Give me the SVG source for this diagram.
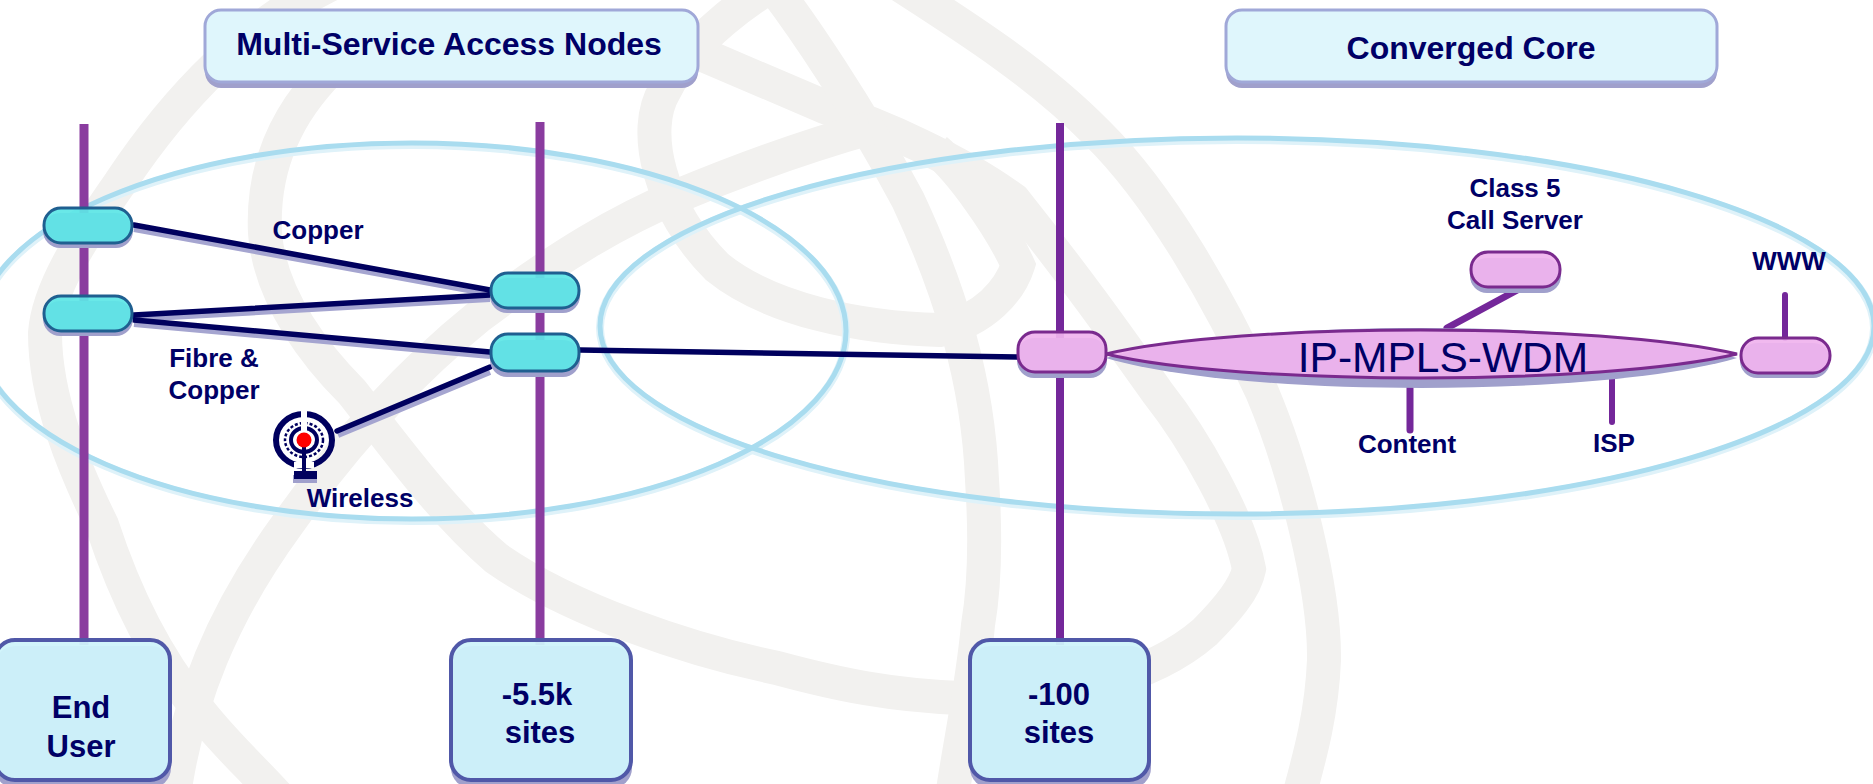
<svg xmlns="http://www.w3.org/2000/svg" width="1873" height="784" viewBox="0 0 1873 784">
<style>
text{font-family:"Liberation Sans",Arial,sans-serif;font-weight:700;fill:#000066;text-anchor:middle}
.bg{fill:none;stroke:#f2f1ef;stroke-width:34}
.ring{fill:none;stroke:#a9dcef;stroke-width:5}
.ringh{fill:none;stroke:#dff2f9;stroke-width:8}
.trunk{fill:none;stroke:#8a3c9f;stroke-width:9}
.cu{fill:none;stroke:#00005e;stroke-width:5.5;stroke-linecap:round}
.cus{fill:none;stroke:#a5a5d0;stroke-width:6}
.pu{fill:none;stroke:#74279a;stroke-width:7;stroke-linecap:round}
.sh{fill:#a0a0cc}
.cy{fill:#5ee6e6;fill-opacity:.93;stroke:#1f5f90;stroke-width:3}
.pk{fill:#f0b4ee;fill-opacity:.93;stroke:#7a2a8e;stroke-width:3}
.hd{fill:#dff6fc;stroke:#a0a8d8;stroke-width:3}
.bx{fill:#cff3fb;fill-opacity:.95;stroke:#5058a8;stroke-width:4}
.lb{font-size:26px}
.big{font-size:32px}
.mid{font-size:31px}
</style>
<g id="background">
<path class="bg" d="M340,-20C250,20 175,100 120,183C80,240 48,290 45,333C45,400 75,470 102,525C120,580 150,650 197,708C225,745 255,770 290,810"/>
<path class="bg" d="M330,70C285,115 262,170 265,233C270,300 320,360 352,392C390,440 440,510 496,558C570,610 690,650 777,668C840,685 890,695 960,698C1060,700 1150,680 1205,632C1225,612 1245,590 1249,569C1240,520 1195,440 1157,392C1120,340 1080,283 1014,200C960,160 880,125 825,107L680,45"/>
<path class="bg" d="M760,-30C800,20 860,110 908,200C950,290 978,380 982,480C986,540 984,590 978,625C972,690 960,740 950,810"/>
<path class="bg" d="M800,-30C750,-5 690,40 665,90C640,130 660,210 717,267C770,310 860,328 940,330C985,320 1010,290 1018,265C1000,225 960,170 936,150"/>
<path class="bg" d="M172,810C185,700 225,610 287,525C340,450 400,380 478,317C560,255 620,220 680,195C740,170 810,145 870,128"/>
<path class="bg" d="M900,-15C970,30 1040,75 1097,133C1160,195 1220,300 1262,392C1295,470 1325,590 1324,660C1322,710 1312,750 1295,810"/>
</g>
<g id="regions">
<ellipse class="ringh" cx="412" cy="333" rx="434" ry="188"/>
<ellipse class="ringh" cx="1237" cy="328" rx="637" ry="188"/>
<ellipse class="ring" cx="412" cy="331" rx="434" ry="188"/>
<ellipse class="ring" cx="1237" cy="326" rx="637" ry="188"/>
</g>
<g id="connectors">
<path class="trunk" d="M84,124V645M540,122V645"/>
<path class="trunk" style="stroke:#74279a;stroke-width:8" d="M1060,123V645"/>
<path class="cus" d="M134,229L490,294M134,319L490,299M134,324L490,356M338,435L490,372"/>
<path class="cu" d="M134,225L490,290M134,315L490,295M134,320L490,352M337,431L490,367M580,350L1017,357"/>
<path class="pu" d="M1521,288L1447,328"/>
<path class="pu" d="M1785,295V338" style="stroke-width:6"/>
<path class="pu" d="M1410,378V430" style="stroke-width:7"/>
<path class="pu" d="M1612,375V422" style="stroke-width:6"/>
</g>
<g id="header-access"><rect class="sh" x="205" y="16" width="493" height="72" rx="16"/><rect class="hd" x="205" y="10" width="493" height="72" rx="16"/><text class="big" x="449" y="55">Multi-Service Access Nodes</text></g>
<g id="header-core"><rect class="sh" x="1226" y="16" width="491" height="72" rx="16"/><rect class="hd" x="1226" y="10" width="491" height="72" rx="16"/><text class="big" x="1471" y="59">Converged Core</text></g>
<g id="cpe-1"><rect class="sh" x="43" y="213" width="90" height="35" rx="17"/><rect class="cy" x="44" y="208" width="88" height="35" rx="17"/></g>
<g id="cpe-2"><rect class="sh" x="43" y="301" width="90" height="35" rx="17"/><rect class="cy" x="44" y="296" width="88" height="35" rx="17"/></g>
<g id="msan-1"><rect class="sh" x="490" y="278" width="90" height="35" rx="17"/><rect class="cy" x="491" y="273" width="88" height="35" rx="17"/></g>
<g id="msan-2"><rect class="sh" x="490" y="340" width="90" height="37" rx="17"/><rect class="cy" x="491" y="334" width="88" height="37" rx="17"/></g>
<g id="wireless">
<g fill="none" stroke="#00005e">
<ellipse cx="304" cy="440" rx="28" ry="26" stroke-width="6"/>
<ellipse cx="304" cy="440" rx="19" ry="17" stroke-width="2.5" stroke-dasharray="3 2"/>
<ellipse cx="304" cy="440" rx="13" ry="12" stroke-width="4"/>
</g>
<path d="M301,410h6v25h-6zM294,462h20v6H294z" fill="#fff"/>
<path d="M302,445h4v26h-4z" fill="#00005e"/>
<rect class="sh" x="293" y="475" width="24" height="8"/>
<rect x="294" y="471" width="23" height="8" fill="#00005e"/>
<circle cx="304" cy="440" r="7.5" fill="#f00"/>
<text class="lb" x="360" y="507">Wireless</text>
</g>
<g id="edge"><rect class="sh" x="1017" y="338" width="90" height="40" rx="17"/><rect class="pk" x="1018" y="332" width="88" height="40" rx="17"/></g>
<g id="core"><path class="sh" d="M1106,358C1240,318 1600,318 1737,358C1600,398 1240,398 1106,358Z"/><path class="pk" d="M1106,354C1240,322 1600,322 1737,354C1600,386 1240,386 1106,354Z"/><text x="1443" y="372" style="font-size:42.5px;font-weight:400">IP-MPLS-WDM</text></g>
<g id="call-server"><rect class="sh" x="1470" y="258" width="91" height="35" rx="17"/><rect class="pk" x="1471" y="252" width="89" height="35" rx="17"/><text class="lb" x="1515" y="197">Class 5</text><text class="lb" x="1515" y="229">Call Server</text></g>
<g id="www"><rect class="sh" x="1740" y="343" width="90" height="35" rx="17"/><rect class="pk" x="1741" y="338" width="89" height="35" rx="17"/><text class="lb" x="1789" y="270">WWW</text></g>
<g id="content"><text class="lb" x="1407" y="453">Content</text></g>
<g id="isp"><text class="lb" x="1614" y="452">ISP</text></g>
<g id="labels"><text class="lb" x="318" y="239">Copper</text><text class="lb" x="214" y="367">Fibre &amp;</text><text class="lb" x="214" y="399">Copper</text></g>
<g id="box-end-user"><rect class="sh" x="-5" y="646" width="176" height="142" rx="20"/><rect class="bx" x="-5" y="640" width="175" height="140" rx="20"/><text class="mid" x="81" y="718">End</text><text class="mid" x="81" y="757">User</text></g>
<g id="box-access"><rect class="sh" x="451" y="646" width="181" height="142" rx="20"/><rect class="bx" x="451" y="640" width="180" height="140" rx="20"/><text class="mid" x="537" y="705">-5.5k</text><text class="mid" x="540" y="743">sites</text></g>
<g id="box-core"><rect class="sh" x="970" y="646" width="181" height="142" rx="20"/><rect class="bx" x="970" y="640" width="179" height="140" rx="20"/><text class="mid" x="1059" y="705">-100</text><text class="mid" x="1059" y="743">sites</text></g>
</svg>
